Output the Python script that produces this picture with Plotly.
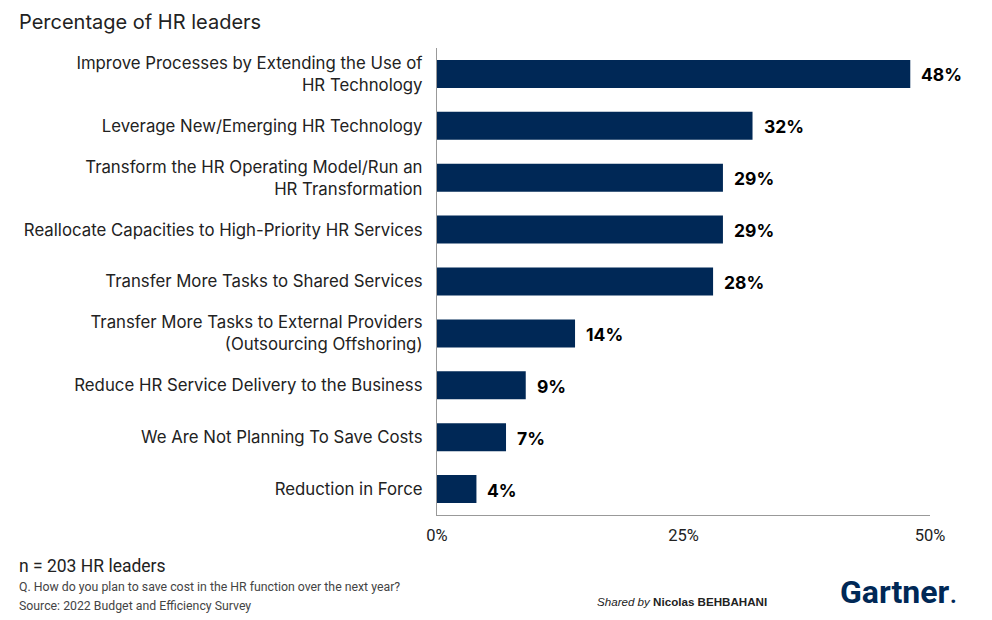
import plotly.graph_objects as go

categories = [
    "Improve Processes by Extending the Use of<br>HR Technology",
    "Leverage New/Emerging HR Technology",
    "Transform the HR Operating Model/Run an<br>HR Transformation",
    "Reallocate Capacities to High-Priority HR Services",
    "Transfer More Tasks to Shared Services",
    "Transfer More Tasks to External Providers<br>(Outsourcing Offshoring)",
    "Reduce HR Service Delivery to the Business",
    "We Are Not Planning To Save Costs",
    "Reduction in Force",
]
values = [48, 32, 29, 29, 28, 14, 9, 7, 4]
tick_vals = [0, 25, 50]
tick_text = ["0%", "25%", "50%"]

NAVY = "#002856"
FONT = "Inter, Noto Sans, sans-serif"
COND = "Roboto, sans-serif"

# plot area geometry (figure pixels)
L, R, T, B = 429, 62, 40, 105
PW = 984 - L - R


def px_x(x):
    # figure-pixel x -> paper x
    return (x - L) / PW


fig = go.Figure()
fig.add_trace(go.Bar(
    x=values,
    y=categories,
    orientation="h",
    marker=dict(color=NAVY, line=dict(width=0)),
    width=0.54,
    hoverinfo="x+y",
))

# value labels to the right of each bar
for cat, v in zip(categories, values):
    fig.add_annotation(
        x=v, y=cat, text=f"<b>{v}%</b>", showarrow=False,
        xanchor="left", xshift=9, yshift=-1,
        font=dict(family=FONT, size=17.5, color="#000000"),
    )

fig.update_layout(
    width=984, height=612,
    margin=dict(l=L, r=R, t=T, b=B),
    paper_bgcolor="white", plot_bgcolor="white",
    showlegend=False,
    font=dict(family=FONT, color="#222222"),
    xaxis=dict(
        range=[0, 50], tickvals=tick_vals, ticktext=tick_text,
        showgrid=False, zeroline=False,
        showline=True, linecolor="#999999", linewidth=1.2,
        ticks="", tickfont=dict(family=COND, size=16.5, color="#222222"),
        ticklabelstandoff=5, fixedrange=True,
    ),
    yaxis=dict(
        autorange="reversed", showgrid=False, zeroline=False,
        showline=True, linecolor="#999999", linewidth=1.2,
        ticks="", tickfont=dict(family=FONT, size=16.8, color="#222222"),
        ticklabelstandoff=10, fixedrange=True,
    ),
)

# title and footer
fig.add_annotation(text="Percentage of HR leaders", xref="paper", yref="paper",
                   x=px_x(9), y=1, xanchor="left", yanchor="top",
                   yshift=T, showarrow=False,
                   font=dict(family=FONT, size=20, color="#222222"))
fig.add_annotation(text="n = 203 HR leaders", xref="paper", yref="paper",
                   x=px_x(9), y=0, xanchor="left", yanchor="middle",
                   yshift=-51, showarrow=False,
                   font=dict(family=COND, size=17.5, color="#222222"))
fig.add_annotation(text="Q. How do you plan to save cost in the HR function over the next year?",
                   xref="paper", yref="paper", x=px_x(9), y=0,
                   xanchor="left", yanchor="middle", yshift=-72, showarrow=False,
                   font=dict(family=COND, size=12.3, color="#444444"))
fig.add_annotation(text="Source: 2022 Budget and Efficiency Survey",
                   xref="paper", yref="paper", x=px_x(9), y=0,
                   xanchor="left", yanchor="middle", yshift=-91, showarrow=False,
                   font=dict(family=COND, size=12.3, color="#444444"))
fig.add_annotation(text="<i>Shared by</i> <b>Nicolas BEHBAHANI</b>",
                   xref="paper", yref="paper", x=px_x(587), y=0,
                   xanchor="left", yanchor="middle", yshift=-86, showarrow=False,
                   font=dict(family="Liberation Sans, Arial, sans-serif", size=11.6,
                             color="#222222"))
fig.add_annotation(text="<b>Gartner</b>.", xref="paper", yref="paper",
                   x=px_x(830), y=0, xanchor="left", yanchor="middle",
                   yshift=-77, showarrow=False,
                   font=dict(family=COND, size=32, color=NAVY))

fig.write_html("out.html")
